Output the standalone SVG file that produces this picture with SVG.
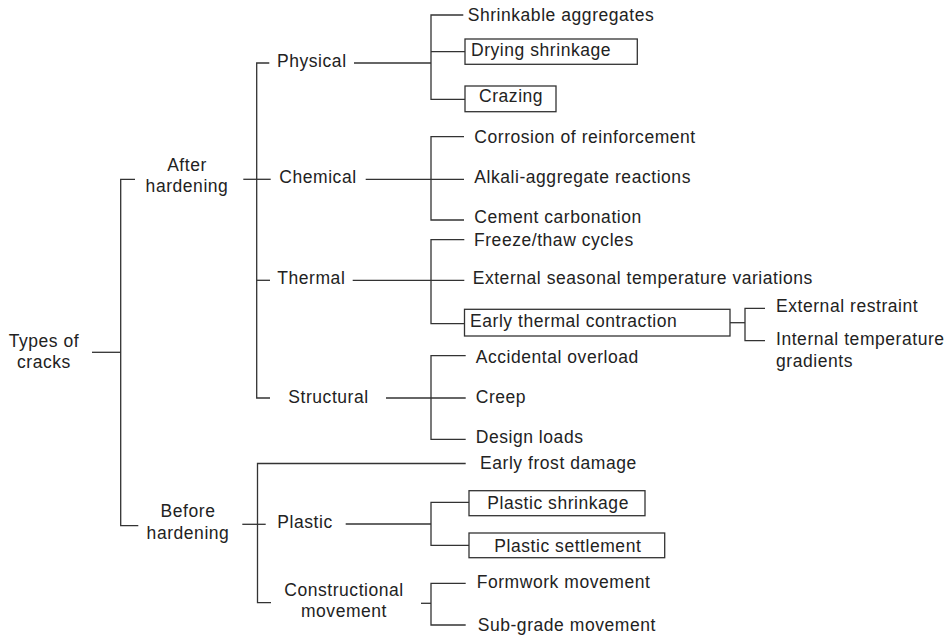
<svg xmlns="http://www.w3.org/2000/svg" width="951" height="640" viewBox="0 0 951 640">
<style>
text{font-family:"Liberation Sans",Arial,Helvetica,sans-serif;font-size:17.5px;letter-spacing:0.55px;fill:#222}
.c{text-anchor:middle}
.ln{fill:none;stroke:#333;stroke-width:1.3}
.bx{fill:#fff;stroke:#333;stroke-width:1.3}
</style>
<rect width="951" height="640" fill="#fff"/>
<g id="connectors" class="ln">
<path d="M135,179.3 H120.7 V525.7 H138.3"/>
<path d="M92,352.3 H120.7"/>
<path d="M243.3,179.3 H270.7"/>
<path d="M269.3,63 H256.7 V398 H270"/>
<path d="M256.7,280.3 H270"/>
<path d="M242.3,524.3 H265.7"/>
<path d="M465.7,463.5 H257.5 V602.7 H271"/>
<path d="M354,63 H431"/>
<path d="M463.3,15 H431 V99.3 H465"/>
<path d="M431,51.7 H465"/>
<path d="M365.7,179.3 H464"/>
<path d="M464,136.7 H431 V220 H464"/>
<path d="M352.7,280.3 H464.3"/>
<path d="M464.3,239.7 H431 V323.7 H464.5"/>
<path d="M730,322.7 H745"/>
<path d="M765,308.3 H745 V340.7 H765"/>
<path d="M386,398 H465.7"/>
<path d="M465.7,355.7 H431 V439.3 H465.7"/>
<path d="M345.7,524 H431"/>
<path d="M469,502.3 H431 V545.3 H469"/>
<path d="M421,603.3 H431"/>
<path d="M465.7,583.3 H431 V625 H465.7"/>
</g>
<g id="types"><text class="c" x="44" y="347.3">Types of</text><text class="c" x="44" y="368.3">cracks</text></g>
<g id="after"><text class="c" x="187" y="170.7">After</text><text class="c" x="187" y="192.3">hardening</text></g>
<g id="before"><text class="c" x="188" y="517.3">Before</text><text class="c" x="188" y="539">hardening</text></g>
<g id="physical"><text x="277" y="66.7">Physical</text></g>
<g id="chemical"><text x="279.3" y="182.7">Chemical</text></g>
<g id="thermal"><text x="277.3" y="284">Thermal</text></g>
<g id="structural"><text x="288.3" y="402.7">Structural</text></g>
<g id="plastic"><text x="277.3" y="528.3">Plastic</text></g>
<g id="constructional"><text class="c" x="344" y="595.7">Constructional</text><text class="c" x="344" y="616.7">movement</text></g>
<g id="shrinkable"><text x="467.7" y="20.7">Shrinkable aggregates</text></g>
<g id="drying"><rect class="bx" x="465" y="39" width="172.3" height="25.3"/><text x="471" y="56">Drying shrinkage</text></g>
<g id="crazing"><rect class="bx" x="465" y="86" width="91" height="25.7"/><text x="479" y="101.7">Crazing</text></g>
<g id="corrosion"><text x="474.3" y="143.3">Corrosion of reinforcement</text></g>
<g id="alkali"><text x="474.3" y="182.7">Alkali-aggregate reactions</text></g>
<g id="carbonation"><text x="474.3" y="222.7">Cement carbonation</text></g>
<g id="freeze"><text x="474" y="246">Freeze/thaw cycles</text></g>
<g id="seasonal"><text x="472.7" y="284">External seasonal temperature variations</text></g>
<g id="earlythermal"><rect class="bx" x="464.5" y="309.3" width="265.5" height="26.7"/><text x="470" y="326.7">Early thermal contraction</text></g>
<g id="restraint"><text x="776" y="311.7">External restraint</text></g>
<g id="gradients"><text x="776" y="345">Internal temperature</text><text x="776" y="367.3">gradients</text></g>
<g id="overload"><text x="475.7" y="363.3">Accidental overload</text></g>
<g id="creep"><text x="475.7" y="403.3">Creep</text></g>
<g id="design"><text x="475.7" y="442.7">Design loads</text></g>
<g id="frost"><text x="480" y="469">Early frost damage</text></g>
<g id="pshrink"><rect class="bx" x="469" y="490.7" width="176" height="25"/><text x="487.3" y="509">Plastic shrinkage</text></g>
<g id="psettle"><rect class="bx" x="469" y="533" width="195.7" height="24.7"/><text x="494.3" y="551.7">Plastic settlement</text></g>
<g id="formwork"><text x="476.7" y="588.3">Formwork movement</text></g>
<g id="subgrade"><text x="477.7" y="631">Sub-grade movement</text></g>
</svg>
